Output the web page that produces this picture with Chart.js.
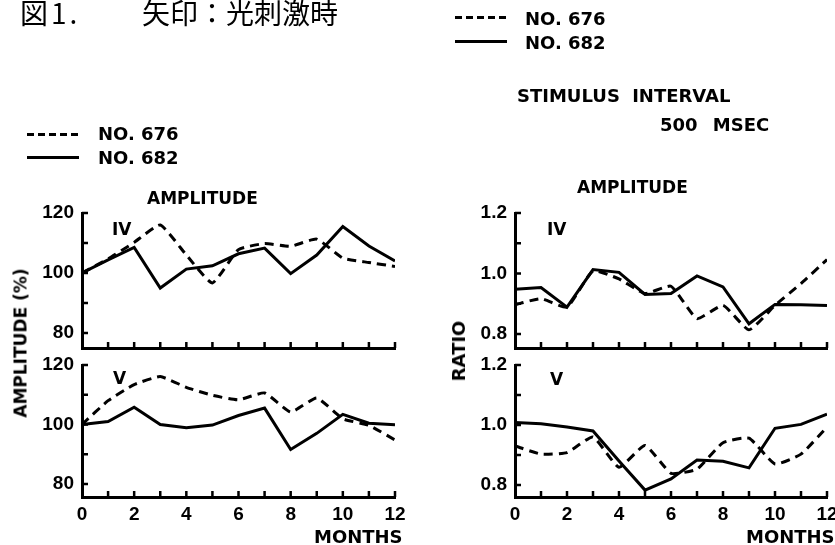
<!DOCTYPE html>
<html>
<head>
<meta charset="utf-8">
<script src="https://cdn.jsdelivr.net/npm/chart.js@4.4.0/dist/chart.umd.min.js"></script>
<style>
  body { margin: 0; background: #fff; }
  #page { position: relative; width: 835px; height: 545px; overflow: hidden; background: #fff; }
  canvas { position: absolute; left: 0; top: 0; }
  .t { position: absolute; font-family: "DejaVu Sans", sans-serif; font-weight: bold; color: #000; white-space: nowrap; line-height: 1; }
  .title { font-family: "Noto Sans CJK JP", sans-serif; font-weight: normal; font-size: 28px; }
  .rot { transform: translate(-50%, -50%) rotate(-90deg); }
  .dash, .solid { position: absolute; height: 3px; }
  .dash { background: repeating-linear-gradient(90deg, #000 0 7px, transparent 7px 11px); }
  .solid { background: #000; }
</style>
</head>
<body>
<div id="page">
  <canvas id="ampIV" width="835" height="545"></canvas>
  <canvas id="ampV" width="835" height="545"></canvas>
  <canvas id="ratioIV" width="835" height="545"></canvas>
  <canvas id="ratioV" width="835" height="545"></canvas>

  <div class="t title" style="left:20px; top:-2px; letter-spacing:3px;">図1.</div>
  <div class="t title" style="left:142px; top:-2px;">矢印：光刺激時</div>

  <!-- top right legend -->
  <div class="dash" style="left:455px; top:16px; width:52px;"></div>
  <div class="t" style="left:525px; top:10px; font-size:18px;">NO. 676</div>
  <div class="solid" style="left:455px; top:40px; width:52px;"></div>
  <div class="t" style="left:525px; top:34px; font-size:18px;">NO. 682</div>

  <div class="t" style="left:517px; top:87px; font-size:18px; word-spacing:6px;">STIMULUS INTERVAL</div>
  <div class="t" style="left:660px; top:116px; font-size:18px; word-spacing:9px;">500 MSEC</div>

  <!-- left legend -->
  <div class="dash" style="left:27px; top:133px; width:52px;"></div>
  <div class="t" style="left:98px; top:125px; font-size:18px;">NO. 676</div>
  <div class="solid" style="left:27px; top:156px; width:52px;"></div>
  <div class="t" style="left:98px; top:149px; font-size:18px;">NO. 682</div>

  <div class="t" style="left:147px; top:190px; font-size:17px;">AMPLITUDE</div>
  <div class="t" style="left:577px; top:179px; font-size:17px;">AMPLITUDE</div>

  <div class="t" style="left:112px; top:221px; font-size:17px;">IV</div>
  <div class="t" style="left:547px; top:221px; font-size:17px;">IV</div>
  <div class="t" style="left:113px; top:370px; font-size:17px;">V</div>
  <div class="t" style="left:550px; top:371px; font-size:17px;">V</div>

  <div class="t" style="left:314px; top:528px; font-size:18px;">MONTHS</div>
  <div class="t" style="left:746px; top:528px; font-size:18px;">MONTHS</div>

  <div class="t rot" style="left:21px; top:343px; font-size:17px;">AMPLITUDE (%)</div>
  <div class="t rot" style="left:459px; top:351px; font-size:18px;">RATIO</div>
</div>

<script>
// ===== Data =====
const months = [0, 1, 2, 3, 4, 5, 6, 7, 8, 9, 10, 11, 12];
const monthLabels = [0, 2, 4, 6, 8, 10, 12];

// Amplitude (%), component IV
const ampIV676 = [100, 104.7, 110.2, 116, 106, 96.7, 107.8, 109.8, 108.9, 111.3, 105, 103.5, 102.2];
const ampIV682 = [100, 104.4, 108.5, 95, 101.3, 102.4, 106.4, 108.3, 99.8, 106, 115.5, 109, 104];
// Amplitude (%), component V
const ampV676 = [100, 108, 113.4, 116.1, 112.5, 109.8, 108.3, 110.6, 104.2, 108.9, 101.9, 99.7, 94.8];
const ampV682 = [100, 101, 105.8, 100, 98.9, 99.8, 103, 105.5, 91.6, 97, 103.4, 100.4, 99.9];

// Ratio, stimulus interval 500 msec
const ratioIV676 = [0.897, 0.917, 0.889, 1.009, 0.982, 0.934, 0.958, 0.851, 0.895, 0.814, 0.895, 0.967, 1.046];
const ratioIV682 = [0.948, 0.954, 0.889, 1.013, 1.004, 0.931, 0.934, 0.992, 0.956, 0.834, 0.898, 0.897, 0.894];
const ratioV676 = [0.93, 0.903, 0.908, 0.96, 0.859, 0.932, 0.839, 0.853, 0.941, 0.956, 0.870, 0.903, 0.993];
const ratioV682 = [1.008, 1.004, 0.993, 0.980, 0.88, 0.783, 0.82, 0.883, 0.879, 0.857, 0.989, 1.002, 1.036];

const ampTicks = [80, 90, 100, 110, 120];
const ampTickLabels = [80, 100, 120];
const ratioTicks = [0.8, 0.9, 1.0, 1.1, 1.2];
const ratioTickLabels = [0.8, 1.0, 1.2];

// ===== Layout =====
const W = 835, H = 545;
const Y_W = 60, X_H = 40;
const tickFont = { family: '"Liberation Sans", Arial, sans-serif', weight: 'bold', size: 19 };

// short tick marks pointing into the plot, like the original
const inwardTicks = {
    id: 'inwardTicks',
    afterDraw(chart) {
        const { ctx, chartArea: a, scales: { x, y } } = chart;
        ctx.save();
        ctx.strokeStyle = '#000';
        ctx.lineWidth = 2.5;
        ctx.beginPath();
        x.ticks.forEach(t => {
            if (t.value === 0) return;
            const px = x.getPixelForValue(t.value);
            ctx.moveTo(px, a.bottom);
            ctx.lineTo(px, a.bottom - 6);
        });
        y.ticks.forEach(t => {
            const py = y.getPixelForValue(t.value);
            ctx.moveTo(a.left, py);
            ctx.lineTo(a.left + 6, py);
        });
        ctx.stroke();
        ctx.restore();
    }
};

function toPoints(values) {
    return months.map((m, i) => ({ x: m, y: values[i] }));
}

function panel(id, area, yMin, yMax, yTicks, yLabels, fmt, dashed, solid, showX) {
    return new Chart(document.getElementById(id), {
        type: 'line',
        data: {
            datasets: [
                { label: 'NO. 676', data: toPoints(dashed), borderDash: [9, 6], tension: 0.15 },
                { label: 'NO. 682', data: toPoints(solid), tension: 0 }
            ]
        },
        options: {
            responsive: false,
            animation: false,
            devicePixelRatio: 1,
            events: [],
            layout: {
                padding: {
                    left: area.left - Y_W,
                    right: W - area.right,
                    top: area.top,
                    bottom: H - area.bottom - X_H
                }
            },
            elements: {
                line: { borderColor: '#000', borderWidth: 3, fill: false, borderCapStyle: 'butt' },
                point: { radius: 0 }
            },
            plugins: { legend: { display: false }, tooltip: { enabled: false } },
            scales: {
                x: {
                    type: 'linear', min: 0, max: 12,
                    grid: { display: false, drawTicks: false },
                    border: { color: '#000', width: 3 },
                    afterBuildTicks: s => { s.ticks = months.map(v => ({ value: v })); },
                    afterFit: s => { s.height = X_H; s.paddingLeft = 0; s.paddingRight = 0; },
                    ticks: {
                        display: showX, autoSkip: false, maxRotation: 0, padding: 6,
                        color: '#000', font: tickFont,
                        callback: v => monthLabels.includes(v) ? String(v) : ''
                    }
                },
                y: {
                    type: 'linear', min: yMin, max: yMax,
                    grid: { display: false, drawTicks: false },
                    border: { color: '#000', width: 3 },
                    afterBuildTicks: s => { s.ticks = yTicks.map(v => ({ value: v })); },
                    afterFit: s => { s.width = Y_W; s.paddingTop = 0; s.paddingBottom = 0; },
                    ticks: {
                        autoSkip: false, padding: 8, color: '#000', font: tickFont,
                        callback: v => yLabels.includes(v) ? fmt(v) : ''
                    }
                }
            }
        },
        plugins: [inwardTicks]
    });
}

const intFmt = v => String(v);
const decFmt = v => v.toFixed(1);

panel('ampIV', { left: 82, right: 395, top: 213, bottom: 348 }, 75, 120, ampTicks, ampTickLabels, intFmt, ampIV676, ampIV682, false);
panel('ampV', { left: 82, right: 395, top: 365, bottom: 497 }, 75.6, 120, ampTicks, ampTickLabels, intFmt, ampV676, ampV682, true);
panel('ratioIV', { left: 515, right: 827, top: 213, bottom: 348 }, 0.754, 1.2, ratioTicks, ratioTickLabels, decFmt, ratioIV676, ratioIV682, false);
panel('ratioV', { left: 515, right: 827, top: 365, bottom: 497 }, 0.76, 1.2, ratioTicks, ratioTickLabels, decFmt, ratioV676, ratioV682, true);
</script>
</body>
</html>
